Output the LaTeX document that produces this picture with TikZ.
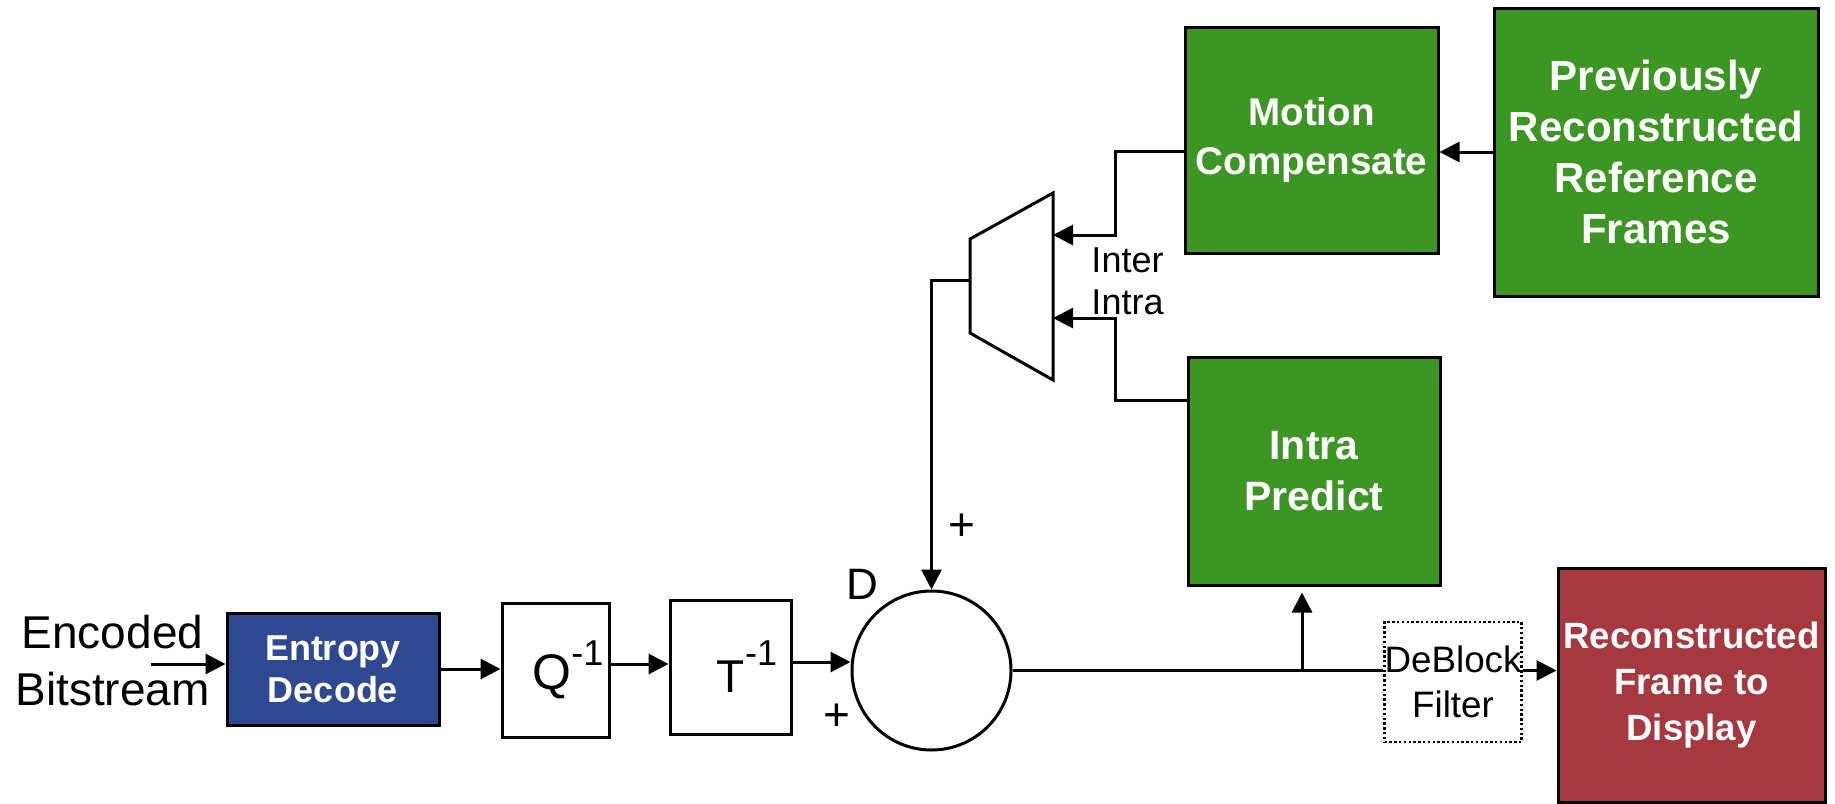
\documentclass[tikz,border=0pt]{standalone}
\usepackage{fontspec}
\setmainfont{Liberation Sans}
\usetikzlibrary{arrows.meta}
\definecolor{boxgreen}{RGB}{61,150,36}
\definecolor{boxblue}{RGB}{46,72,145}
\definecolor{boxred}{RGB}{166,56,64}
\newcommand{\fsz}[2]{\fontsize{#1}{#2}\selectfont}

\begin{document}
\begin{tikzpicture}[x=0.5pt,y=-0.5pt,line width=1.5pt,>={Triangle[length=10pt,width=10pt]},
  blk/.style={draw,inner sep=0pt,align=center},
  gbox/.style={blk,fill=boxgreen,text=white}]
\useasboundingbox(0,0)rectangle(1835,803);
% blocks
\node[align=center,font=\fsz{23}{28.5}](enc)at(112.5,661){Encoded\\Bitstream};
\node[blk,fill=boxblue,text=white,font=\fsz{18}{21}\bfseries,minimum width=106pt,minimum height=56pt](ent)at(333,669){Entropy\\Decode};
\node[blk,font=\fsz{25}{25},minimum width=53.5pt,minimum height=67pt](q)at(555.5,670){\hspace*{12.5pt}Q\raisebox{12pt}{\fsz{18}{18}-1}};
\node[blk,font=\fsz{23}{23},minimum width=60.5pt,minimum height=67pt](t)at(730.5,667){\hspace*{16.5pt}T\raisebox{13.5pt}{\fsz{18}{18}-1}};
\node[draw,circle,inner sep=0pt,minimum size=79.5pt](sum)at(931.5,670.5){};
\node[gbox,font=\fsz{19.3}{24.5}\bfseries,minimum width=126.5pt,minimum height=113pt](mc)at(1311.5,140){Motion\\Compensate};
\node[gbox,font=\fsz{21}{25.5}\bfseries,minimum width=162pt,minimum height=144pt](prev)at(1656,152){Previously\\Reconstructed\\Reference\\Frames};
\node[gbox,font=\fsz{20.5}{25.5}\bfseries,minimum width=126pt,minimum height=114pt](intra)at(1314,471){Intra\\Predict};
\node[blk,line width=1.2pt,dash pattern=on 1.2pt off 1.2pt,font=\fsz{18.4}{22.5},minimum width=68pt,minimum height=60pt](dbf)at(1453,682){DeBlock\\Filter};
\node[blk,fill=boxred,text=white,font=\fsz{18.3}{23}\bfseries,minimum width=133.5pt,minimum height=117pt](rec)at(1691.5,685){Reconstructed\\Frame to\\Display};
% labels
\node[font=\fsz{23}{23}](pa)at(962,527){+};\node[font=\fsz{22}{22}](dl)at(862,584){D};\node[font=\fsz{23}{23}](pb)at(837,717){+};
\node[align=center,font=\fsz{18}{21}](mode)at(1127.5,281){Inter\\Intra};
% selector
\coordinate(m1)at(970,239);\coordinate(m2)at(1053,193);\coordinate(m3)at(1053,380);\coordinate(m4)at(970,333);
\draw(m1)--(m2)--(m3)--(m4)--cycle;
\coordinate(mout)at(970,280);\coordinate(minter)at(1053,235);\coordinate(mintra)at(1053,318);
\coordinate(ib)at(1115,235);\coordinate(jb)at(1115,318);
% connectors
\coordinate(in)at(151,664);\draw[->](in)--(in-|ent.west);
\draw[->](ent.east)--(ent.east-|q.west);
\draw[->]([yshift=3pt]q.east)--([yshift=3pt]q.east-|t.west);
\draw[->]([yshift=2.5pt]t.east)--([yshift=2.5pt]t.east-|sum.west);
\draw[->](mout)-|(sum.north);
\draw[->]([yshift=-5.5pt]mc.west)-|(ib)--(minter);
\draw[->]([yshift=35.5pt]intra.west)-|(jb)--(mintra);
\draw[->](prev.west)--(prev.west-|mc.east);
\draw(sum.east)--(sum.east-|dbf.west);
\draw[->](dbf.east|-sum.east)--(sum.east-|rec.west);
\coordinate(tap)at(1302,670.5);\draw[->,shorten >=3pt](tap)--(tap|-intra.south);
\end{tikzpicture}
\end{document}
